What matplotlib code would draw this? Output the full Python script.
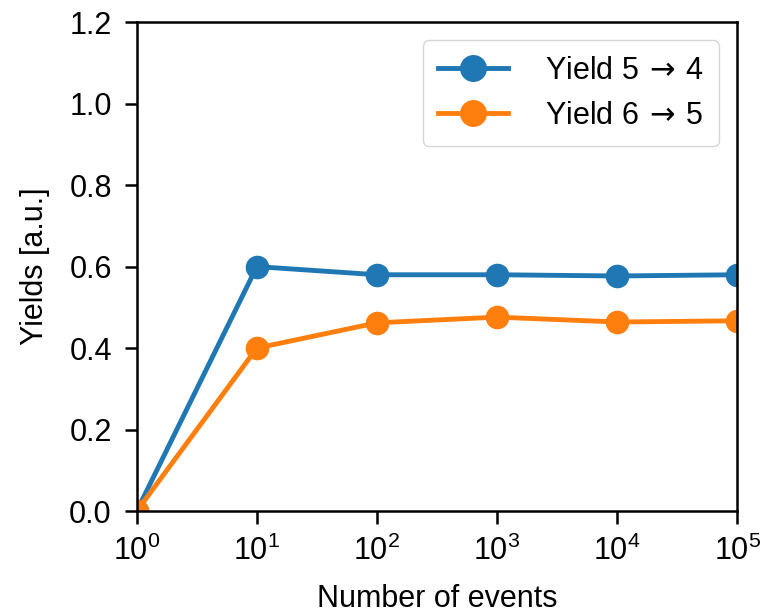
import matplotlib
matplotlib.use('Agg')
from matplotlib import pyplot as plt

plt.rcParams['font.family'] = ['Liberation Sans', 'DejaVu Sans']
plt.rcParams['font.size'] = 22
plt.rcParams['mathtext.fontset'] = 'custom'
plt.rcParams['mathtext.rm'] = 'Liberation Sans'
plt.rcParams['mathtext.sf'] = 'DejaVu Sans'

events = [1, 10, 100, 1000, 10000, 100000]
yield_54 = [0.0, 0.60, 0.58, 0.58, 0.577, 0.58]
yield_65 = [0.0, 0.40, 0.462, 0.476, 0.464, 0.467]

fig = plt.figure(figsize=(7.64, 6.15), dpi=100)
ax = fig.add_axes([0.179, 0.169, 0.786, 0.795])
ax.plot(events, yield_54, '-o', color='#1f77b4', lw=3.5, ms=16, label=r'Yield 5$\,\mathsf{\rightarrow}\,$4')
ax.plot(events, yield_65, '-o', color='#ff7f0e', lw=3.5, ms=16, label=r'Yield 6$\,\mathsf{\rightarrow}\,$5')
ax.set_xscale('log')
ax.set_xlim(1, 1e5)
ax.set_ylim(0, 1.2)
ax.set_xticks(events)
ax.minorticks_off()
ax.set_yticks([0, 0.2, 0.4, 0.6, 0.8, 1.0, 1.2])
ax.tick_params(width=1.8, length=9, pad=9)
for s in ax.spines.values():
    s.set_linewidth(1.8)
ax.set_xlabel('Number of events', labelpad=12)
ax.set_ylabel('Yields [a.u.]', labelpad=14)
ax.legend(loc='upper right', handlelength=2.3, borderaxespad=0.6, borderpad=0.5,
          labelspacing=0.5, handletextpad=1.2, markerscale=1.15)
plt.savefig('out.png')
